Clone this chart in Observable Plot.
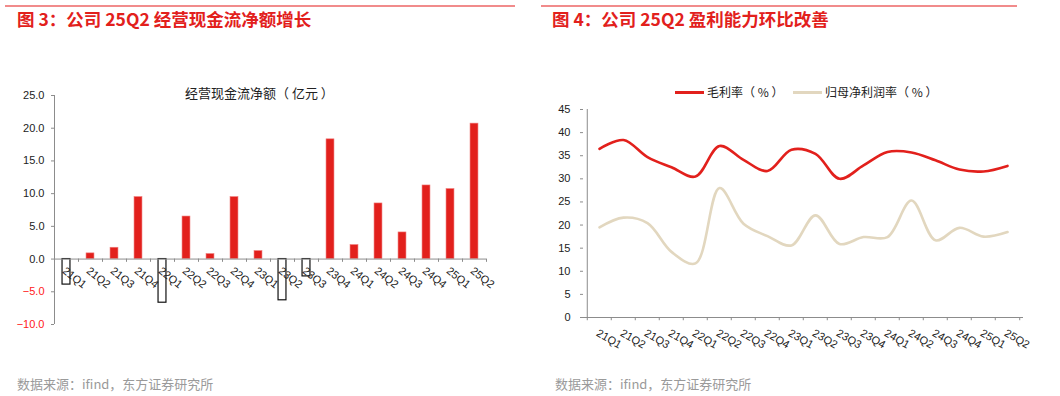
<!DOCTYPE html>
<html>
<head>
<meta charset="utf-8">
<script src="https://cdn.jsdelivr.net/npm/d3@7"></script>
<script src="https://cdn.jsdelivr.net/npm/@observablehq/plot@0.6"></script>
<style>
  html, body { margin: 0; padding: 0; background: #fff; }
  body { width: 1060px; height: 396px; position: relative; overflow: hidden;
         font-family: "Liberation Sans", "Noto Sans CJK SC", sans-serif; }
  .topline { position: absolute; top: 5px; height: 2px; background: #f18b8b; }
  .title { position: absolute; top: 8px; font-family: "Noto Sans CJK SC", sans-serif; font-weight: bold;
           font-size: 17.5px; color: #e2201c; line-height: 22px; white-space: nowrap; }
  .foot { position: absolute; top: 375px; font-family: "Noto Sans CJK SC", sans-serif; font-size: 13px;
          color: #9a9a9a; line-height: 18px; white-space: nowrap; }
  .chart { position: absolute; top: 40px; }
  .intitle { position: absolute; top: 84px; left: 185px; font-family: "Noto Sans CJK SC", sans-serif;
             font-size: 13px; color: #222; line-height: 18px; white-space: pre; }
  .legend { position: absolute; top: 83px; font-family: "Noto Sans CJK SC", sans-serif; font-size: 12px;
            color: #222; line-height: 18px; white-space: pre; display: flex; align-items: center; }
  .legend .sw { display: inline-block; width: 29px; height: 3px; margin-right: 3px; }
</style>
</head>
<body>
<div class="topline" style="left:5px;width:510px"></div>
<div class="topline" style="left:541px;width:476px"></div>
<div class="title" style="left:17px">图 3：公司 25Q2 经营现金流净额增长</div>
<div class="title" style="left:552px">图 4：公司 25Q2 盈利能力环比改善</div>
<div id="left" class="chart" style="left:0px"></div>
<div id="right" class="chart" style="left:540px"></div>
<div class="intitle">经营现金流净额（ 亿元 ）</div>
<div class="legend" style="left:675px"><span class="sw" style="background:#e2201c"></span>毛利率（ % ）</div>
<div class="legend" style="left:793px"><span class="sw" style="background:#e2d7bf"></span>归母净利润率（ % ）</div>
<div class="foot" style="left:17px">数据来源：ifind，东方证券研究所</div>
<div class="foot" style="left:555px">数据来源：ifind，东方证券研究所</div>
<script>
const quarters = ["21Q1","21Q2","21Q3","21Q4","22Q1","22Q2","22Q3","22Q4","23Q1","23Q2","23Q3","23Q4","24Q1","24Q2","24Q3","24Q4","25Q1","25Q2"];
const cashFlow = [-3.9, 0.87, 1.73, 9.47, -6.67, 6.5, 0.76, 9.47, 1.22, -6.3, -2.65, 18.3, 2.14, 8.5, 4.07, 11.25, 10.7, 20.7];
const grossMargin = [36.5, 38.4, 34.7, 32.5, 30.5, 37.1, 34.1, 31.7, 36.3, 35.4, 30.0, 32.9, 35.8, 35.7, 34.0, 32.0, 31.6, 32.8];
const netMargin = [19.5, 21.6, 20.4, 14.2, 11.7, 28.0, 20.3, 17.6, 15.6, 22.1, 15.9, 17.4, 17.4, 25.3, 16.7, 19.4, 17.5, 18.5];
const leftTicksPos = [0, 5, 10, 15, 20, 25];
const leftTicksNeg = [-10, -5];
const rightTicks = [0, 5, 10, 15, 20, 25, 30, 35, 40, 45];

const cashRows = quarters.map((q, i) => ({q, v: cashFlow[i]}));
const marginRows = quarters.map((q, i) => ({q, g: grossMargin[i], n: netMargin[i]}));

const font = "Liberation Sans, Noto Sans CJK SC, sans-serif";
const axisColor = "#8c8c8c";

// Left chart
{
  const W = 530, H = 320, ml = 54, mr = 44, mt = 55, mb = 36;
  const bw = (W - ml - mr) / quarters.length;
  const chart = Plot.plot({
    width: W, height: H, marginLeft: ml, marginRight: mr, marginTop: mt, marginBottom: mb,
    style: {fontFamily: font, fontSize: "11px", background: "transparent"},
    x: {type: "band", domain: quarters, padding: 0, axis: null, label: null},
    y: {domain: [-10, 25], axis: null, label: null},
    marks: [
      Plot.barY(cashRows.filter(d => d.v >= 0), {x: "q", y: "v", fill: "#e2201c", stroke: "#f07a78", strokeWidth: 0.6, insetLeft: bw * 0.335, insetRight: bw * 0.335}),
      Plot.barY(cashRows.filter(d => d.v < 0), {x: "q", y: "v", fill: "#fff", stroke: "#111", strokeWidth: 1.2, insetLeft: bw * 0.335, insetRight: bw * 0.335}),
      Plot.ruleY([0], {stroke: axisColor, strokeWidth: 1}),
      Plot.ruleX([quarters[0]], {dx: -bw / 2, y1: -10, y2: 25, stroke: axisColor}),
      Plot.ruleX(quarters, {x: d => d, y1: 0, y2: -0.5, dx: -bw / 2, stroke: axisColor}),
      Plot.ruleX([quarters[quarters.length - 1]], {x: d => d, y1: 0, y2: -0.5, dx: bw / 2, stroke: axisColor}),
      Plot.axisY(leftTicksPos, {label: null, tickSize: 3, tickPadding: 7, stroke: axisColor, fill: "#222", tickFormat: d3.format(".1f"), fontSize: 11}),
      Plot.axisY(leftTicksNeg, {label: null, tickSize: 3, tickPadding: 7, stroke: axisColor, fill: "#ff2020", tickFormat: d3.format(".1f"), fontSize: 11}),
      Plot.text(quarters, {x: d => d, y: 0, text: d => d, rotate: 38, textAnchor: "start", lineAnchor: "top", dy: 7, dx: 0, fill: "#222", fontSize: 11})
    ]
  });
  document.getElementById("left").appendChild(chart);
}

// Right chart
{
  const W = 520, H = 320, ml = 43, mr = 37, mt = 69, mb = 43;
  const bw = (W - ml - mr) / quarters.length;
  const chart = Plot.plot({
    width: W, height: H, marginLeft: ml, marginRight: mr, marginTop: mt, marginBottom: mb,
    style: {fontFamily: font, fontSize: "11px", background: "transparent"},
    x: {type: "band", domain: quarters, padding: 0, axis: null, label: null},
    y: {domain: [0, 45], axis: null, label: null},
    marks: [
      Plot.ruleY([0], {stroke: axisColor}),
      Plot.ruleX([quarters[0]], {dx: -bw / 2, y1: 0, y2: 45, stroke: axisColor}),
      Plot.ruleX(quarters, {x: d => d, y1: 0, y2: -0.7, dx: -bw / 2, stroke: axisColor}),
      Plot.ruleX([quarters[quarters.length - 1]], {x: d => d, y1: 0, y2: -0.7, dx: bw / 2, stroke: axisColor}),
      Plot.axisY(rightTicks, {label: null, tickSize: 3, tickPadding: 10, stroke: axisColor, fill: "#222", fontSize: 11}),
      Plot.line(marginRows, {x: "q", y: "n", stroke: "#e2d7bf", strokeWidth: 2.6, curve: "catmull-rom"}),
      Plot.line(marginRows, {x: "q", y: "g", stroke: "#e2201c", strokeWidth: 2.6, curve: "catmull-rom"}),
      Plot.text(quarters, {x: d => d, y: 0, text: d => d, rotate: 30, textAnchor: "start", lineAnchor: "top", dy: 11, dx: 0, fill: "#222", fontSize: 11})
    ]
  });
  document.getElementById("right").appendChild(chart);
}
</script>
</body>
</html>
